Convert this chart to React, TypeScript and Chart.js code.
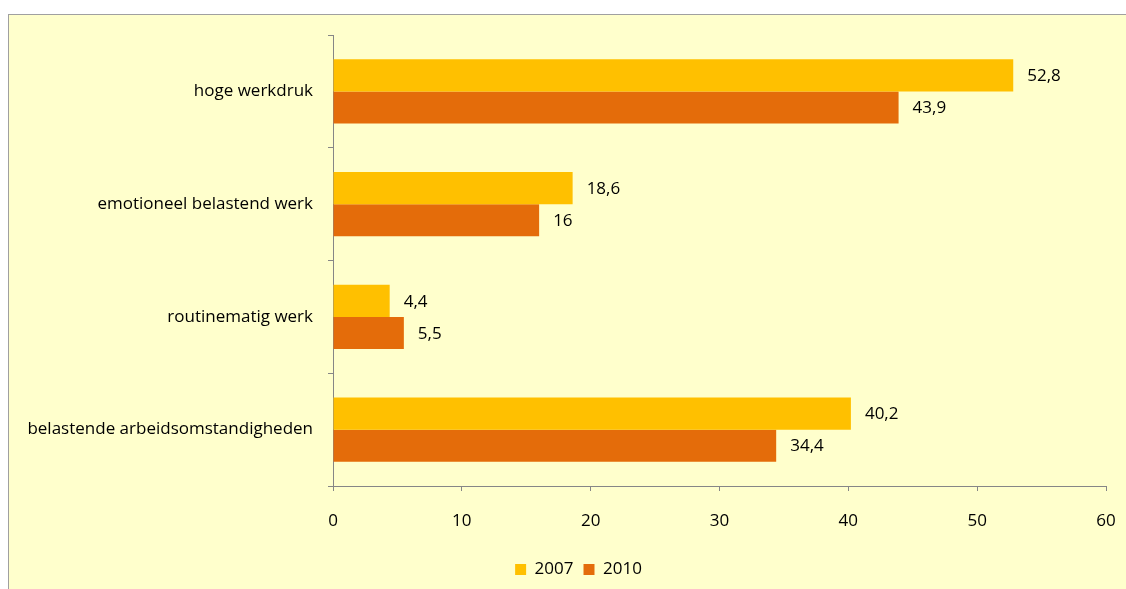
import React, { useEffect, useRef } from 'react';
import { Chart, registerables } from 'chart.js';

Chart.register(...registerables);

const categories = [
  'hoge werkdruk',
  'emotioneel belastend werk',
  'routinematig werk',
  'belastende arbeidsomstandigheden',
];
const seriesLabels = ['2007', '2010'];
const values2007 = [52.8, 18.6, 4.4, 40.2];
const values2010 = [43.9, 16, 5.5, 34.4];
const xMin = 0;
const xMax = 60;
const xStep = 10;

const FONT = '"Open Sans"';
const FONT_SIZE = 17;
const AXIS_COLOR = '#868686';

const valueLabelPlugin = {
  id: 'valueLabels',
  afterDatasetsDraw(chart: any) {
    const ctx = chart.ctx;
    ctx.save();
    ctx.font = `${FONT_SIZE}px ${FONT}`;
    ctx.fillStyle = '#000000';
    ctx.textAlign = 'left';
    ctx.textBaseline = 'middle';
    chart.data.datasets.forEach((ds: any, di: number) => {
      const meta = chart.getDatasetMeta(di);
      meta.data.forEach((el: any, i: number) => {
        const v = ds.data[i];
        const txt = String(v).replace('.', ',');
        ctx.fillText(txt, el.x + 14, el.y + 1);
      });
    });
    ctx.restore();
  },
};

// shift the legend so it is centred where the original one is
const legendShiftPlugin = {
  id: 'legendShift',
  afterLayout(chart: any) {
    const lg = chart.legend;
    if (lg) {
      lg.left += 16;
      lg.right += 16;
    }
  },
};

export default function App() {
  const ref = useRef<HTMLCanvasElement | null>(null);

  useEffect(() => {
    if (!ref.current) return;
    const chart = new Chart(ref.current, {
      type: 'bar',
      data: {
        labels: categories,
        datasets: [
          {
            label: seriesLabels[0],
            data: values2007,
            backgroundColor: '#FFC000',
            borderWidth: 0,
            categoryPercentage: 0.568,
            barPercentage: 1,
          },
          {
            label: seriesLabels[1],
            data: values2010,
            backgroundColor: '#E46C0A',
            borderWidth: 0,
            categoryPercentage: 0.568,
            barPercentage: 1,
          },
        ],
      },
      options: {
        indexAxis: 'y',
        animation: false,
        responsive: false,
        maintainAspectRatio: false,
        layout: { padding: { top: 20, left: 10, right: 20, bottom: 1 } },
        plugins: {
          tooltip: { enabled: false },
          legend: {
            position: 'bottom',
            labels: {
              boxWidth: 11,
              boxHeight: 11,
              padding: 10,
              color: '#000000',
              font: { family: FONT, size: FONT_SIZE },
            },
          },
        },
        scales: {
          x: {
            min: xMin,
            max: xMax,
            ticks: {
              stepSize: xStep,
              color: '#000000',
              font: { family: FONT, size: FONT_SIZE },
              padding: 20,
            },
            grid: {
              drawOnChartArea: false,
              drawTicks: true,
              tickLength: 5,
              color: AXIS_COLOR,
            },
            border: { color: AXIS_COLOR, width: 1 },
            afterFit(scale: any) {
              scale.height = 65;
              scale.paddingLeft = 0;
              scale.paddingRight = 0;
            },
          },
          y: {
            type: 'category',
            offset: true,
            ticks: {
              color: '#000000',
              font: { family: FONT, size: FONT_SIZE },
              padding: 15,
            },
            grid: {
              offset: true,
              drawOnChartArea: false,
              drawTicks: true,
              tickLength: 5,
              color: AXIS_COLOR,
            },
            border: { color: AXIS_COLOR, width: 1 },
            afterFit(scale: any) {
              scale.width = 314;
              scale.paddingTop = 0;
              scale.paddingBottom = 0;
            },
          },
        },
      },
      plugins: [valueLabelPlugin, legendShiftPlugin],
    });
    return () => chart.destroy();
  }, []);

  return (
    <div
      style={{
        position: 'absolute',
        left: 8,
        top: 14,
        width: 1118,
        height: 575,
        boxSizing: 'border-box',
        borderLeft: '1px solid #A0A0A0',
        borderTop: '1px solid #A0A0A0',
        background: '#FFFFCC',
      }}
    >
      <canvas ref={ref} width={1117} height={574} style={{ display: 'block' }} />
    </div>
  );
}
